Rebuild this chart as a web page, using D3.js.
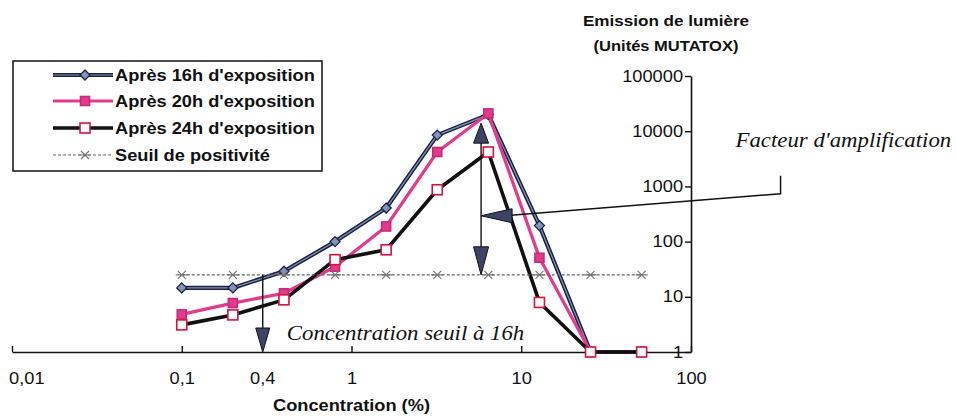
<!DOCTYPE html>
<html>
<head>
<meta charset="utf-8">
<script src="https://cdn.jsdelivr.net/npm/d3@7"></script>
<style>
  body { margin: 0; background: #fff; }
  svg { display: block; }
</style>
</head>
<body>
<svg id="chart" width="956" height="417"></svg>
<script>
// Concentrations tested (%), doubling series
const concentrations = [0.1, 0.2, 0.4, 0.8, 1.6, 3.2, 6.4, 12.8, 25.6, 51.2];
// Light emission (MUTATOX units) per exposure time
const expo16h = [14.5, 14.5, 29, 100, 405, 8500, 20000, 195, 1, 1];
const expo20h = [4.8, 7.7, 11.6, 35, 188, 4200, 21000, 51, 1, 1];
const expo24h = [3.1, 4.7, 8.8, 47, 71, 870, 4200, 7.9, 1, 1];
const seuilPositivite = [25, 25, 25, 25, 25, 25, 25, 25, 25, 25];

const seriesNames = ["Après 16h d'exposition", "Après 20h d'exposition", "Après 24h d'exposition", "Seuil de positivité"];

const xTicks = [0.01, 0.1, 1, 10, 100];
const xTickLabels = ["0,01", "0,1", "1", "10", "100"];
const yTicks = [1, 10, 100, 1000, 10000, 100000];
const yTickLabels = ["1", "10", "100", "1000", "10000", "100000"];

// Annotation anchors, in data units
const seuilConc16h = 0.3;          // threshold concentration at 16h
const seuilConcLabel = "0,4";
const facteurConc = 5.8;           // amplification factor double arrow
const facteurTop = 14000;
const pointerStart = [5.8, 294];
const pointerEnd = [337, 737];
const pointerStub = 1564;
const facteurTextPos = [183, 5250];
const seuilTextPos = [0.416, 1.62];

const SX = 1.14; // horizontal stretch applied to all text
const SANS = "'Liberation Sans', Arial, sans-serif";
const SERIF = "'Liberation Serif', 'Times New Roman', serif";

const svg = d3.select("#chart");

const x = d3.scaleLog().domain([0.01, 100]).range([12, 691]);
const y = d3.scaleLog().domain([1, 100000]).range([352, 76]);

function label(parent, px, py, txt, o) {
  return parent.append("text")
    .attr("transform", `translate(${px},${py}) scale(${SX},1)`)
    .attr("font-family", o.family || SANS)
    .attr("font-size", o.size || 16)
    .attr("font-weight", o.weight || "normal")
    .attr("font-style", o.style || "normal")
    .attr("text-anchor", o.anchor || "start")
    .attr("fill", "#111")
    .text(txt);
}

// ---- Axes ----
const xAxis = d3.axisBottom(x)
  .tickValues(xTicks)
  .tickFormat((d, i) => xTickLabels[i])
  .tickSizeInner(-6).tickSizeOuter(0).tickPadding(21);
const gx = svg.append("g").attr("transform", `translate(0,${y(1)})`).call(xAxis);
gx.select(".domain").attr("stroke", "#111").attr("stroke-width", 1.6);
gx.selectAll(".tick line").attr("stroke", "#111").attr("stroke-width", 1.4);
gx.selectAll(".tick text")
  .attr("font-family", SANS).attr("font-size", 16).attr("fill", "#111")
  .attr("transform", `scale(${SX},1)`)
  .each(function (d, i) {
    if (i === 0) d3.select(this).attr("text-anchor", "start").attr("x", -3);
  });

const yAxis = d3.axisLeft(y)
  .tickValues(yTicks)
  .tickFormat((d, i) => yTickLabels[i])
  .tickSizeInner(6).tickSizeOuter(0).tickPadding(1);
const gy = svg.append("g").attr("transform", `translate(${x(100)},0)`).call(yAxis);
gy.select(".domain").attr("stroke", "#111").attr("stroke-width", 1.6);
gy.selectAll(".tick line").attr("stroke", "#111").attr("stroke-width", 1.4);
gy.selectAll(".tick text")
  .attr("font-family", SANS).attr("font-size", 16).attr("fill", "#111")
  .attr("x", -7)
  .attr("transform", `scale(${SX},1)`);

// extra label under the threshold-concentration arrow
label(svg, x(seuilConc16h), 384, seuilConcLabel, { size: 16, anchor: "middle" });

// axis titles
label(svg, (x(0.01) + x(100)) / 2, 411, "Concentration (%)", { size: 16, weight: "bold", anchor: "middle" });
label(svg, 666, 26, "Emission de lumière", { size: 15, weight: "bold", anchor: "middle" });
label(svg, 666, 51, "(Unités MUTATOX)", { size: 14.5, weight: "bold", anchor: "middle" });

// ---- Series ----
const line = d3.line().x(d => x(d[0])).y(d => y(d[1]));
const pts = vals => concentrations.map((c, i) => [c, vals[i]]);

const plot = svg.append("g");

function diamond(g, cx, cy, r) {
  g.append("path")
    .attr("d", `M${cx},${cy - r}L${cx + r},${cy}L${cx},${cy + r}L${cx - r},${cy}Z`)
    .attr("fill", "#7f93bd").attr("stroke", "#1d2140").attr("stroke-width", 1.3);
}
function square(g, cx, cy, s, fill, stroke) {
  g.append("rect").attr("x", cx - s / 2).attr("y", cy - s / 2)
    .attr("width", s).attr("height", s)
    .attr("fill", fill).attr("stroke", stroke).attr("stroke-width", 1.6);
}
function star(g, cx, cy, r) {
  g.append("path")
    .attr("d", `M${cx - r},${cy - r}L${cx + r},${cy + r}M${cx - r},${cy + r}L${cx + r},${cy - r}M${cx - r - 2},${cy}L${cx + r + 2},${cy}`)
    .attr("stroke", "#777").attr("stroke-width", 1.2).attr("fill", "none");
}

// 16h : dark outlined blue-grey line with diamonds
plot.append("path").datum(pts(expo16h)).attr("d", line)
  .attr("fill", "none").attr("stroke", "#1d2140").attr("stroke-width", 4.2).attr("stroke-linejoin", "round");
plot.append("path").datum(pts(expo16h)).attr("d", line)
  .attr("fill", "none").attr("stroke", "#8194bd").attr("stroke-width", 1.2);
pts(expo16h).forEach(p => diamond(plot, x(p[0]), y(p[1]), 5));

// 20h : magenta line with filled squares
plot.append("path").datum(pts(expo20h)).attr("d", line)
  .attr("fill", "none").attr("stroke", "#e23a8c").attr("stroke-width", 3.2).attr("stroke-linejoin", "round");
pts(expo20h).forEach(p => square(plot, x(p[0]), y(p[1]), 9, "#e23a8c", "#c42a78"));

// 24h : black line with hollow red squares
plot.append("path").datum(pts(expo24h)).attr("d", line)
  .attr("fill", "none").attr("stroke", "#111").attr("stroke-width", 3.6).attr("stroke-linejoin", "round");
pts(expo24h).forEach(p => square(plot, x(p[0]), y(p[1]), 10, "#fff", "#d5143c"));

// positivity threshold : thin dashed grey line with star markers
plot.append("path").datum(pts(seuilPositivite)).attr("d", line)
  .attr("fill", "none").attr("stroke", "#666").attr("stroke-width", 1.1).attr("stroke-dasharray", "3,2");
pts(seuilPositivite).forEach(p => star(plot, x(p[0]), y(p[1]), 4));

// ---- Annotations ----
const ann = svg.append("g");
const ARROW_FILL = "#3c4366";
function arrowHead(cx, cy, dir, len, half) {
  let d;
  if (dir === "down") d = `M${cx},${cy}L${cx - half},${cy - len}L${cx + half},${cy - len}Z`;
  if (dir === "up") d = `M${cx},${cy}L${cx - half},${cy + len}L${cx + half},${cy + len}Z`;
  if (dir === "left") d = `M${cx},${cy}L${cx + len},${cy - half}L${cx + len},${cy + half}Z`;
  ann.append("path").attr("d", d).attr("fill", ARROW_FILL).attr("stroke", "#111").attr("stroke-width", 1);
}

// threshold concentration at 16h
const sx16 = x(seuilConc16h);
ann.append("line").attr("x1", sx16).attr("x2", sx16)
  .attr("y1", y(seuilPositivite[0])).attr("y2", y(1) - 20)
  .attr("stroke", "#111").attr("stroke-width", 1.4);
arrowHead(sx16, y(1), "down", 24, 7);
label(ann, x(seuilTextPos[0]), y(seuilTextPos[1]), "Concentration seuil à 16h", { family: SERIF, size: 20, style: "italic" });

// amplification factor double arrow
const fx = x(facteurConc);
ann.append("line").attr("x1", fx).attr("x2", fx)
  .attr("y1", y(facteurTop) + 15).attr("y2", y(seuilPositivite[0]) - 20)
  .attr("stroke", "#111").attr("stroke-width", 1.4);
arrowHead(fx, y(facteurTop), "up", 20, 7.5);
arrowHead(fx, y(seuilPositivite[0]), "down", 28, 7.5);

// pointer from the label to the arrow
const p0 = [x(pointerStart[0]), y(pointerStart[1])];
const p1 = [x(pointerEnd[0]), y(pointerEnd[1])];
ann.append("path")
  .attr("d", `M${p0[0] + 25},${p0[1]}L${p1[0]},${p1[1]}L${p1[0]},${y(pointerStub)}`)
  .attr("fill", "none").attr("stroke", "#111").attr("stroke-width", 1.5);
arrowHead(p0[0], p0[1], "left", 31, 7);
label(ann, x(facteurTextPos[0]), y(facteurTextPos[1]), "Facteur d'amplification", { family: SERIF, size: 20, style: "italic" });

// ---- Legend ----
const lg = svg.append("g");
lg.append("rect").attr("x", 13).attr("y", 61).attr("width", 309).attr("height", 110)
  .attr("fill", "#fff").attr("stroke", "#111").attr("stroke-width", 1.5);
const rowY = [75, 101, 128, 155];
const lx0 = 53, lx1 = 113, lm = 85;
// 16h
lg.append("line").attr("x1", lx0).attr("x2", lx1).attr("y1", rowY[0]).attr("y2", rowY[0])
  .attr("stroke", "#1d2140").attr("stroke-width", 4.2);
lg.append("line").attr("x1", lx0).attr("x2", lx1).attr("y1", rowY[0]).attr("y2", rowY[0])
  .attr("stroke", "#8194bd").attr("stroke-width", 1.2);
diamond(lg, lm, rowY[0], 5);
// 20h
lg.append("line").attr("x1", lx0).attr("x2", lx1).attr("y1", rowY[1]).attr("y2", rowY[1])
  .attr("stroke", "#e23a8c").attr("stroke-width", 3.2);
square(lg, lm, rowY[1], 9, "#e23a8c", "#c42a78");
// 24h
lg.append("line").attr("x1", lx0).attr("x2", lx1).attr("y1", rowY[2]).attr("y2", rowY[2])
  .attr("stroke", "#111").attr("stroke-width", 3.6);
square(lg, lm, rowY[2], 10, "#fff", "#d5143c");
// threshold
lg.append("line").attr("x1", lx0).attr("x2", lx1).attr("y1", rowY[3]).attr("y2", rowY[3])
  .attr("stroke", "#666").attr("stroke-width", 1.1).attr("stroke-dasharray", "3,2");
star(lg, lm, rowY[3], 4);
seriesNames.forEach((n, i) => label(lg, 115, rowY[i] + 6, n, { size: 16, weight: "bold" }));
</script>
</body>
</html>
